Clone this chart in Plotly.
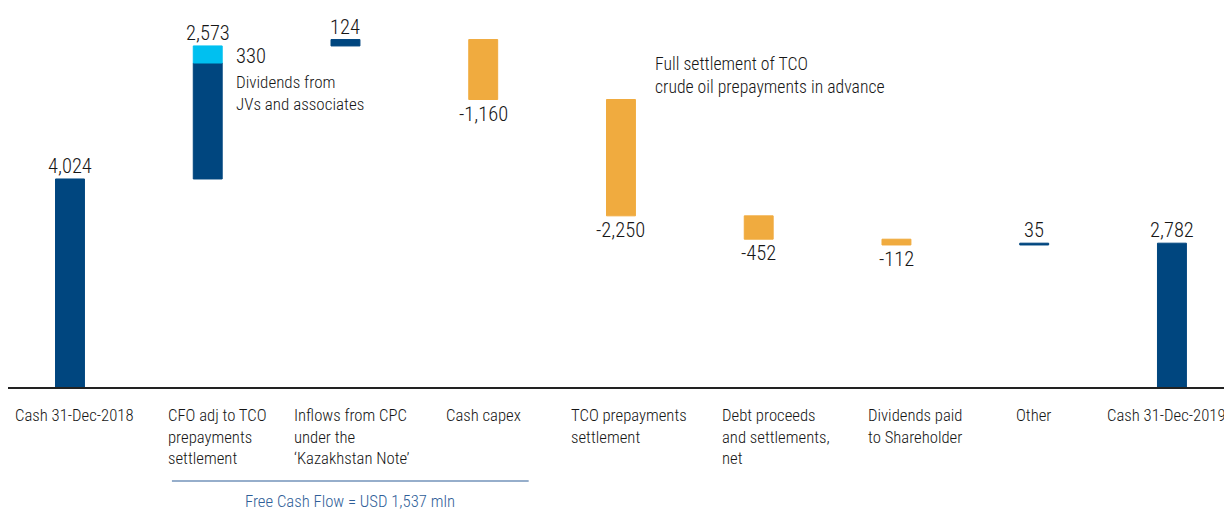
import plotly.graph_objects as go

# ---- data ----
categories = [
    "Cash 31-Dec-2018",
    "CFO adj to TCO<br>prepayments<br>settlement",
    "Inflows from CPC<br>under the<br>‘Kazakhstan Note’",
    "Cash capex",
    "TCO prepayments<br>settlement",
    "Debt proceeds<br>and settlements,<br>net",
    "Dividends paid<br>to Shareholder",
    "Other",
    "Cash 31-Dec-2019",
]
values = [4024, 2573, 124, -1160, -2250, -452, -112, 35, 2782]
measures = ["total", "relative", "relative", "relative", "relative",
            "relative", "relative", "relative", "total"]
dividends_jv = 330          # part of CFO bar (light blue)
fcf_value = 1537            # Free Cash Flow annotation

# ---- styles ----
DARK = "#00467f"
LIGHT = "#00c0f0"
ORANGE = "#f0ab3f"
TEXT = "#161616"
FCF_COL = "#2f5e98"
FONT = "Roboto Condensed, Roboto, sans-serif"
WEIGHT = 300
LABEL_SHIFTS = [-57, -42, -53, -39, -52, -39, -30, -20, -67]   # left edge of label blocks (px from bar centre)

OFF = 8                      # page body margin
PLOT_H = 379.0

def py(p):
    """page pixel y -> paper coordinate"""
    return 1 - (p - OFF) / PLOT_H

x_idx = list(range(len(categories)))

# running totals -> bases
bases, tops, bottoms = [], [], []
cum = 0
for v, m in zip(values, measures):
    if m == "total":
        b = 0
        cum = v
    else:
        b = cum
        cum = cum + v
    bases.append(b)
    tops.append(max(b, b + v))
    bottoms.append(min(b, b + v))

main_y, main_base, main_col = [], [], []
for i, (v, b) in enumerate(zip(values, bases)):
    main_y.append(v - dividends_jv if i == 1 else v)
    main_base.append(b)
    main_col.append(DARK if v >= 0 else ORANGE)

fig = go.Figure()
fig.add_trace(go.Bar(
    x=x_idx, y=main_y, base=main_base, width=0.21,
    marker=dict(color=main_col, line=dict(color=main_col, width=1)),
    hoverinfo="skip", showlegend=False,
))
fig.add_trace(go.Bar(
    x=[1], y=[dividends_jv], base=[bases[1] + values[1] - dividends_jv], width=0.21,
    marker=dict(color=LIGHT, line=dict(color=LIGHT, width=1)),
    hoverinfo="skip", showlegend=False,
))

annotations = []
# value labels
for i, v in enumerate(values):
    txt = f"{v:,}"
    pos = v >= 0
    annotations.append(dict(x=i, y=tops[i] if pos else bottoms[i], xref="x", yref="y",
                            text=txt, showarrow=False,
                            yanchor="bottom" if pos else "top", xanchor="center",
                            yshift=-1 if pos else 0,
                            font=dict(family=FONT, size=20.5, color=TEXT, weight=WEIGHT)))

# category labels (left aligned blocks under bars)
for i, c in enumerate(categories):
    annotations.append(dict(x=i, y=py(404), xref="x", yref="paper", text=c,
                            showarrow=False, yanchor="top", xanchor="left",
                            xshift=LABEL_SHIFTS[i], align="left",
                            font=dict(family=FONT, size=16.7, color=TEXT, weight=WEIGHT)))

# side notes
annotations.append(dict(x=1.19, y=py(42), xref="x", yref="paper", text=f"{dividends_jv:,}",
                        showarrow=False, xanchor="left", yanchor="top", align="left",
                        font=dict(family=FONT, size=20.5, color=TEXT, weight=WEIGHT)))
annotations.append(dict(x=1.19, y=py(70), xref="x", yref="paper",
                        text="Dividends from<br>JVs and associates",
                        showarrow=False, xanchor="left", yanchor="top", align="left",
                        font=dict(family=FONT, size=17, color=TEXT, weight=WEIGHT)))
annotations.append(dict(x=4.235, y=py(52), xref="x", yref="paper",
                        text="Full settlement of TCO<br>crude oil prepayments in advance",
                        showarrow=False, xanchor="left", yanchor="top", align="left",
                        font=dict(family=FONT, size=17.7, color=TEXT, weight=WEIGHT)))
annotations.append(dict(x=2.03, y=py(490), xref="x", yref="paper",
                        text=f"Free Cash Flow = USD {fcf_value:,} mln",
                        showarrow=False, xanchor="center", yanchor="top",
                        font=dict(family=FONT, size=16.7, color=FCF_COL, weight=WEIGHT)))

shapes = [
    dict(type="line", xref="x", yref="paper", x0=0.74, x1=3.33, y0=py(481), y1=py(481),
         line=dict(color=FCF_COL, width=1.2)),
]

fig.update_layout(
    width=1224, height=504,
    margin=dict(l=0, r=0, t=0, b=125, pad=0),
    paper_bgcolor="white", plot_bgcolor="white",
    barmode="overlay",
    xaxis=dict(range=[-0.450, 8.436], showticklabels=False, showgrid=False,
               zeroline=False, showline=True, linecolor="#222222", linewidth=1.5,
               ticks="", fixedrange=True),
    yaxis=dict(range=[0, 7331], visible=False, showgrid=False, zeroline=False),
    annotations=annotations,
    shapes=shapes,
    font=dict(family=FONT),
)

fig.write_html("out.html")
